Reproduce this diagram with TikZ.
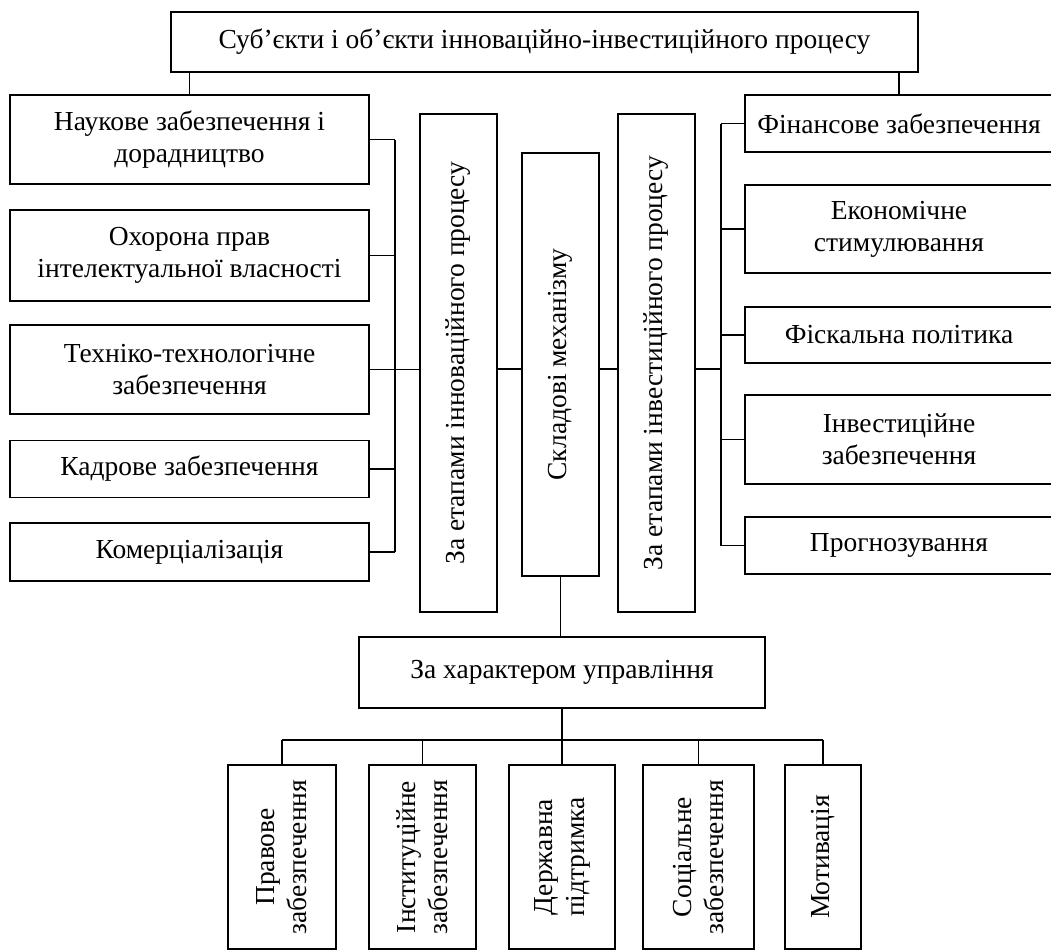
\documentclass[tikz,border=0pt]{standalone}
\usepackage{fontspec}
\setmainfont{Liberation Serif}
\usepackage{tikz}
\usetikzlibrary{positioning,calc}

\begin{document}
\begin{tikzpicture}[
    x=1pt, y=-1pt,
    box/.style={rectangle, draw, line width=1.7pt, inner sep=0pt, align=center, font=\fontsize{27.5}{32}\selectfont},
    sidebox/.style={box, minimum width=359pt},
    rightbox/.style={box, minimum width=308pt},
    vertbox/.style={box, rotate=90, minimum height=77pt},
    lowbox/.style={box, rotate=90, minimum width=184pt},
    line/.style={line width=1.7pt}
]
    \useasboundingbox (0,0) rectangle (1051,951);

    % --- Top ---
    \node[box, minimum width=747pt, minimum height=60pt] (subjects) at (544.5,42) {Суб’єкти і об’єкти інноваційно-інвестиційного процесу};

    % --- Left column ---
    \node[sidebox, minimum height=89pt] (sci-support) at (189.5,139.5) {Наукове забезпечення і\\дорадництво};
    \node[sidebox, minimum height=91pt] (ip-rights) at (189.5,255.5) {Охорона прав\\інтелектуальної власності};
    \node[sidebox, minimum height=89pt] (tech-support) at (189.5,369.5) {Техніко-технологічне\\забезпечення};
    \node[sidebox, minimum height=57pt] (staff) at (189.5,469) {Кадрове забезпечення};
    \node[sidebox, minimum height=58pt] (commerc) at (189.5,552) {Комерціалізація};

    % --- Middle columns (rotated: north is left, south is right) ---
    \node[vertbox, minimum width=498pt] (innov-stages) at (458.5,363) {За етапами інноваційного процесу};
    \node[vertbox, minimum width=423pt] (components) at (560.5,364.5) {Складові механізму};
    \node[vertbox, minimum width=498pt] (invest-stages) at (656.5,363) {За етапами інвестиційного процесу};

    % --- Right column ---
    \node[rightbox, minimum height=57pt] (fin-support) at (899,123.5) {Фінансове забезпечення};
    \node[rightbox, minimum height=88pt] (econ-stim) at (899,229) {Економічне\\стимулювання};
    \node[rightbox, minimum height=56pt] (fiscal) at (899,335) {Фіскальна політика};
    \node[rightbox, minimum height=89pt] (invest-support) at (899,439.5) {Інвестиційне\\забезпечення};
    \node[rightbox, minimum height=57pt] (forecast) at (899,545.5) {Прогнозування};

    % --- Management ---
    \node[box, minimum width=406pt, minimum height=71pt] (mgmt) at (562,672.5) {За характером управління};

    \node[lowbox, minimum height=108pt] (legal) at (282,857) {Правове\\забезпечення};
    \node[lowbox, minimum height=107pt] (institut) at (422.5,857) {Інституційне\\забезпечення};
    \node[lowbox, minimum height=106pt] (state-aid) at (562,857) {Державна\\підтримка};
    \node[lowbox, minimum height=111pt] (social) at (698.5,857) {Соціальне\\забезпечення};
    \node[lowbox, minimum height=76pt] (motivation) at (823,857) {Мотивація};

    % --- Connections ---
    \coordinate (lbus) at (395,369);
    \coordinate (rbus) at (721,369);
    \coordinate (bbus) at (562,740);

    % top to side columns
    \draw[line] (sci-support.north) -- (sci-support.north |- subjects.south);
    \draw[line] (fin-support.north) -- (fin-support.north |- subjects.south);

    % left bus
    \draw[line] (sci-support.east) -- (sci-support.east -| lbus);
    \draw[line] (ip-rights.east) -- (ip-rights.east -| lbus);
    \draw[line] (tech-support.east) -- (tech-support.east -| innov-stages.north);
    \draw[line] (staff.east) -- (staff.east -| lbus);
    \draw[line] (commerc.east) -- (commerc.east -| lbus);
    \draw[line] (sci-support.east -| lbus) -- (commerc.east -| lbus);

    % middle line
    \draw[line] (innov-stages.south |- lbus) -- (components.north |- lbus);
    \draw[line] (components.south |- lbus) -- (invest-stages.north |- lbus);
    \draw[line] (invest-stages.south |- lbus) -- (rbus);

    % right bus
    \draw[line] (fin-support.west -| rbus) -- (forecast.west -| rbus);
    \draw[line] (fin-support.west -| rbus) -- (fin-support.west);
    \draw[line] (econ-stim.west -| rbus) -- (econ-stim.west);
    \draw[line] (fiscal.west -| rbus) -- (fiscal.west);
    \draw[line] (invest-support.west -| rbus) -- (invest-support.west);
    \draw[line] (forecast.west -| rbus) -- (forecast.west);

    % down to management
    \draw[line] (components.west) -- (components.west |- mgmt.north);
    \draw[line] (mgmt.south) -- (mgmt.south |- bbus);
    \draw[line] (legal.east |- bbus) -- (motivation.east |- bbus);
    \draw[line] (legal.east) -- (legal.east |- bbus);
    \draw[line] (institut.east) -- (institut.east |- bbus);
    \draw[line] (state-aid.east) -- (state-aid.east |- bbus);
    \draw[line] (social.east) -- (social.east |- bbus);
    \draw[line] (motivation.east) -- (motivation.east |- bbus);

\end{tikzpicture}
\end{document}
